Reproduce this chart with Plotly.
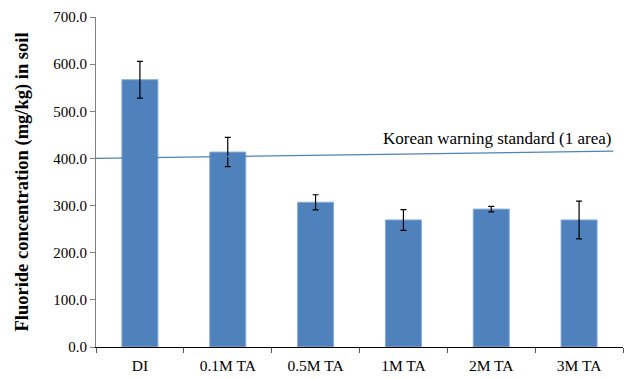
import plotly.graph_objects as go

categories = ["DI", "0.1M TA", "0.5M TA", "1M TA", "2M TA", "3M TA"]
values = [567.0, 413.5, 307.0, 269.5, 292.5, 269.5]
errors = [39.0, 31.0, 16.0, 22.0, 6.0, 40.0]
standard_x = [-0.5, 5.39]
standard_y = [400.0, 415.5]
standard_label = "Korean warning standard (1 area)"

xpos = list(range(len(categories)))

fig = go.Figure()
fig.add_trace(go.Bar(
    x=xpos, y=values, width=0.41,
    marker=dict(color="#4F81BD", line=dict(color="#8AAAD6", width=1)),
    error_y=dict(type="data", array=errors, visible=True, color="black", thickness=1.2, width=3),
    showlegend=False,
))
fig.add_trace(go.Scatter(
    x=standard_x, y=standard_y, mode="lines",
    line=dict(color="#4F81BD", width=1.2), showlegend=False, hoverinfo="skip",
))
fig.add_annotation(
    x=standard_x[1], y=standard_y[1], xref="x", yref="y",
    text=standard_label, showarrow=False, xanchor="right", yanchor="bottom",
    yshift=1, font=dict(family="Liberation Serif", size=17, color="black"),
)

fig.update_layout(
    width=627, height=379,
    margin=dict(l=96, r=4, t=17, b=32),
    paper_bgcolor="white", plot_bgcolor="white",
    font=dict(family="Liberation Serif", size=15, color="black"),
    bargap=0.59,
)
fig.update_xaxes(
    range=[-0.5, 5.5], tickvals=xpos, ticktext=categories,
    showline=True, linecolor="black", linewidth=1, showgrid=False,
    ticks="", zeroline=False, automargin=False, ticklabelstandoff=4,
    minor=dict(tickvals=[-0.5, 0.5, 1.5, 2.5, 3.5, 4.5, 5.5], ticks="outside", ticklen=5, tickcolor="#555555"),
    tickfont=dict(family="Liberation Serif", size=15.5),
)
fig.update_yaxes(
    range=[0, 700], dtick=100, tickformat=".1f",
    showline=True, linecolor="#7f7f7f", linewidth=1, showgrid=False,
    ticks="outside", ticklen=5, tickcolor="#7f7f7f", zeroline=False, automargin=False,
    title=dict(text="<b>Fluoride concentration (mg/kg) in soil</b>",
               font=dict(family="Liberation Serif", size=18.5), standoff=19),
    tickfont=dict(family="Liberation Serif", size=15),
)

fig.write_html("out.html", config={"displayModeBar": False},
               post_script="document.body.style.margin='0';")
